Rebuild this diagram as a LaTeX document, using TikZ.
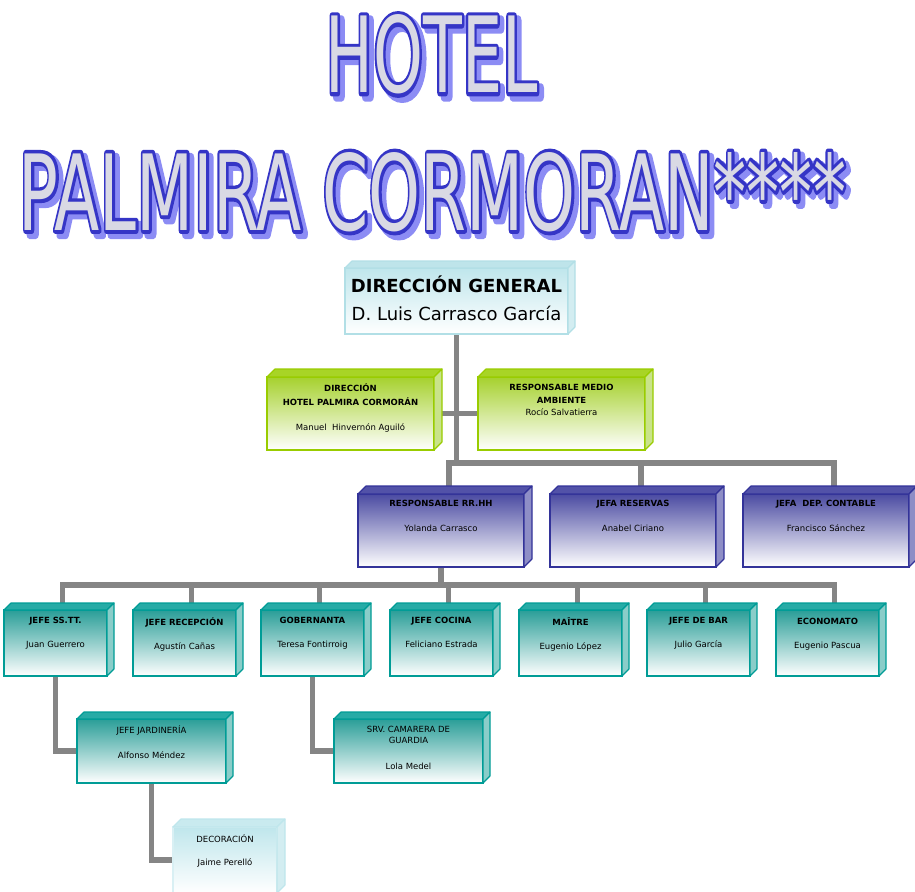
\documentclass[tikz,border=0pt]{standalone}
\usepackage{fontspec}
\setmainfont{DejaVu Sans}
\newfontfamily\rotulosombra[FakeBold=9]{DejaVu Sans}
\newfontfamily\rotulogrueso[FakeBold=7]{DejaVu Sans}
\newfontfamily\rotulofino{DejaVu Sans}
\usetikzlibrary{calc,positioning,backgrounds}
\definecolor{gris1}{HTML}{858585}
\definecolor{rotulo1}{HTML}{D9D9E4}
\definecolor{rotulo2}{HTML}{3535C6}
\definecolor{rotulo3}{HTML}{8C8CF4}
\definecolor{celeste1}{HTML}{B2DFE6}
\definecolor{celeste2}{HTML}{BFE6EC}
\definecolor{celeste3}{HTML}{D3EDF1}
\definecolor{verde1}{HTML}{99CC00}
\definecolor{verde2}{HTML}{A6D12E}
\definecolor{verde3}{HTML}{C9E38A}
\definecolor{azul1}{HTML}{333399}
\definecolor{azul2}{HTML}{4B4BA2}
\definecolor{azul3}{HTML}{8E8EC6}
\definecolor{turq1}{HTML}{009C96}
\definecolor{turq2}{HTML}{2A9E98}
\definecolor{turq3}{HTML}{8ACDC9}

\newcommand{\letrero}[4]{\resizebox{#3pt}{#4pt}{#1\fontsize{40}{40}\selectfont #2}}

\tikzset{
  caja/.style={draw, line width=1.1pt, outer sep=0pt, inner sep=0pt, anchor=north west, bottom color=white},
  celeste/.style={caja, draw=celeste1, top color=celeste2},
  verde/.style={caja, draw=verde1, top color=verde2, minimum width=167pt, minimum height=73pt},
  azul/.style={caja, draw=azul1, top color=azul2, minimum width=166pt, minimum height=73pt},
  turq/.style={caja, draw=turq1, top color=turq2, minimum width=103pt, minimum height=66pt},
  letra/.style={anchor=north, inner sep=0pt, align=center, text=black, font=\fontsize{8.5}{10}\selectfont, execute at begin node=\strut},
  conector/.style={draw=gris1, line width=5.5pt},
}

\begin{document}
\begin{tikzpicture}[x=1pt,y=-1pt]
\useasboundingbox (0,0) rectangle (915,891);

% titulo
\begin{scope}[line join=round]
\coordinate (hotel) at (431.5,54.5);
\coordinate (palmira) at (432.5,192);
\node[text=rotulo3] (hotel-s) at ($(hotel)+(4,4)$) {\letrero{\rotulosombra}{HOTEL}{212}{78}};
\node[text=rotulo3] (palmira-s) at ($(palmira)+(4,4)$) {\letrero{\rotulosombra}{PALMIRA CORMORAN****}{827}{78}};
\node[text=rotulo2] (hotel-o) at (hotel) {\letrero{\rotulogrueso}{HOTEL}{212}{78}};
\node[text=rotulo2] (palmira-o) at (palmira) {\letrero{\rotulogrueso}{PALMIRA CORMORAN****}{827}{78}};
\node[text=rotulo1] (hotel-f) at (hotel) {\letrero{\rotulofino}{HOTEL}{212}{78}};
\node[text=rotulo1] (palmira-f) at (palmira) {\letrero{\rotulofino}{PALMIRA CORMORAN****}{827}{78}};
\end{scope}

% cajas
\node[celeste, minimum width=223pt, minimum height=66pt] (dg) at (345,268) {};
\node[verde] (dirhotel) at (267,377) {};
\node[verde] (medioamb) at (478,377) {};

\node[azul] (rrhh) at (358,494) {};
\node[azul] (reservas) at (550,494) {};
\node[azul] (contable) at (743,494) {};

\node[turq] (sstt) at (4,610) {};
\node[turq] (recep) at (133,610) {};
\node[turq] (gob) at (261,610) {};
\node[turq] (cocina) at (390,610) {};
\node[turq] (maitre) at (519,610) {};
\node[turq] (bar) at (647,610) {};
\node[turq] (econ) at (776,610) {};

\node[turq, minimum width=149pt, minimum height=64pt] (jard) at (77,719) {};
\node[turq, minimum width=149pt, minimum height=64pt] (srv) at (334,719) {};
\node[celeste, draw=celeste2!60!white, minimum width=104pt, minimum height=66pt] (deco) at (173,827) {};

% tapas y laterales
\foreach \n/\d/\cl/\cs in {dg/7/celeste1/celeste3, deco/8/celeste2/celeste3,
    dirhotel/8/verde1/verde3, medioamb/8/verde1/verde3,
    rrhh/8/azul1/azul3, reservas/8/azul1/azul3, contable/8/azul1/azul3,
    sstt/7/turq1/turq3, recep/7/turq1/turq3, gob/7/turq1/turq3, cocina/7/turq1/turq3,
    maitre/7/turq1/turq3, bar/7/turq1/turq3, econ/7/turq1/turq3,
    jard/7/turq1/turq3, srv/7/turq1/turq3} {
  \filldraw[draw=\cl, fill=\cl!85!white, line width=1.1pt, line join=round]
    (\n.north west) -- ++(\d,-\d) -- ($(\n.north east)+(\d,-\d)$) -- (\n.north east) -- cycle;
  \filldraw[draw=\cl, fill=\cs, line width=1.1pt, line join=round]
    (\n.north east) -- ++(\d,-\d) -- ($(\n.south east)+(\d,-\d)$) -- (\n.south east) -- cycle;
  \coordinate (\n-t) at ($(\n.north)+(\d,-\d)$);
}

% textos
\node[letra, font=\fontsize{18}{22}\selectfont] (dg-l) at ($(dg.north)+(0,8)$)
  {\textbf{DIRECCIÓN GENERAL}\\[6pt] D. Luis Carrasco García};
\node[letra] (dirhotel-l) at ($(dirhotel.north)+(0,6)$)
  {\textbf{DIRECCIÓN}\\[4pt] \textbf{HOTEL PALMIRA CORMORÁN}\\[15pt] Manuel\ \ Hinvernón Aguiló};
\node[letra] (medioamb-l) at ($(medioamb.north)+(0,7)$)
  {\textbf{RESPONSABLE MEDIO}\\[3pt] \textbf{AMBIENTE}\\[2pt] Rocío Salvatierra};

\node[letra] (rrhh-l) at ($(rrhh.north)+(0,6)$) {\textbf{RESPONSABLE RR.HH}\\[15pt] Yolanda Carrasco};
\node[letra] (reservas-l) at ($(reservas.north)+(0,6)$) {\textbf{JEFA RESERVAS}\\[15pt] Anabel Ciriano};
\node[letra] (contable-l) at ($(contable.north)+(0,6)$) {\textbf{JEFA\ \ DEP. CONTABLE}\\[15pt] Francisco Sánchez};

\node[letra] (sstt-l) at ($(sstt.north)+(0,7)$) {\textbf{JEFE SS.TT.}\\[14pt] Juan Guerrero};
\node[letra] (recep-l) at ($(recep.north)+(0,7)$) {\textbf{JEFE RECEPCIÓN}\\[14pt] Agustín Cañas};
\node[letra] (gob-l) at ($(gob.north)+(0,7)$) {\textbf{GOBERNANTA}\\[14pt] Teresa Fontirroig};
\node[letra] (cocina-l) at ($(cocina.north)+(0,7)$) {\textbf{JEFE COCINA}\\[14pt] Feliciano Estrada};
\node[letra] (maitre-l) at ($(maitre.north)+(0,7)$) {\textbf{MAÎTRE}\\[14pt] Eugenio López};
\node[letra] (bar-l) at ($(bar.north)+(0,7)$) {\textbf{JEFE DE BAR}\\[14pt] Julio García};
\node[letra] (econ-l) at ($(econ.north)+(0,8)$) {\textbf{ECONOMATO}\\[14pt] Eugenio Pascua};

\node[letra] (jard-l) at ($(jard.north)+(0,6)$) {JEFE JARDINERÍA\\[15pt] Alfonso Méndez};
\node[letra] (srv-l) at ($(srv.north)+(0,7)$) {SRV. CAMARERA DE\\[1pt] GUARDIA\\[16pt] Lola Medel};
\node[letra] (deco-l) at ($(deco.north)+(0,7)$) {DECORACIÓN\\[13pt] Jaime Perelló};

% conectores
\begin{scope}[on background layer]
\coordinate (b1) at (0,463);
\coordinate (b2) at (0,585);
\draw[conector] (dg.south) -- (dg.south |- b1);
\draw[conector] (dirhotel.east) -- (medioamb.west);
\draw[conector] (rrhh-t) -- (rrhh-t |- b1) -| (contable-t);
\draw[conector] (reservas-t) -- (reservas-t |- b1);
\draw[conector] (rrhh.south) -- (rrhh.south |- b2);
\draw[conector] (sstt-t) -- (sstt-t |- b2) -| (econ-t);
\foreach \n in {recep,gob,cocina,maitre,bar}
  \draw[conector] (\n-t) -- (\n-t |- b2);
\draw[conector] (sstt.south) |- (jard.west);
\draw[conector] (gob.south) |- (srv.west);
\draw[conector] (jard.south) |- (deco.west);
\end{scope}

\end{tikzpicture}
\end{document}
